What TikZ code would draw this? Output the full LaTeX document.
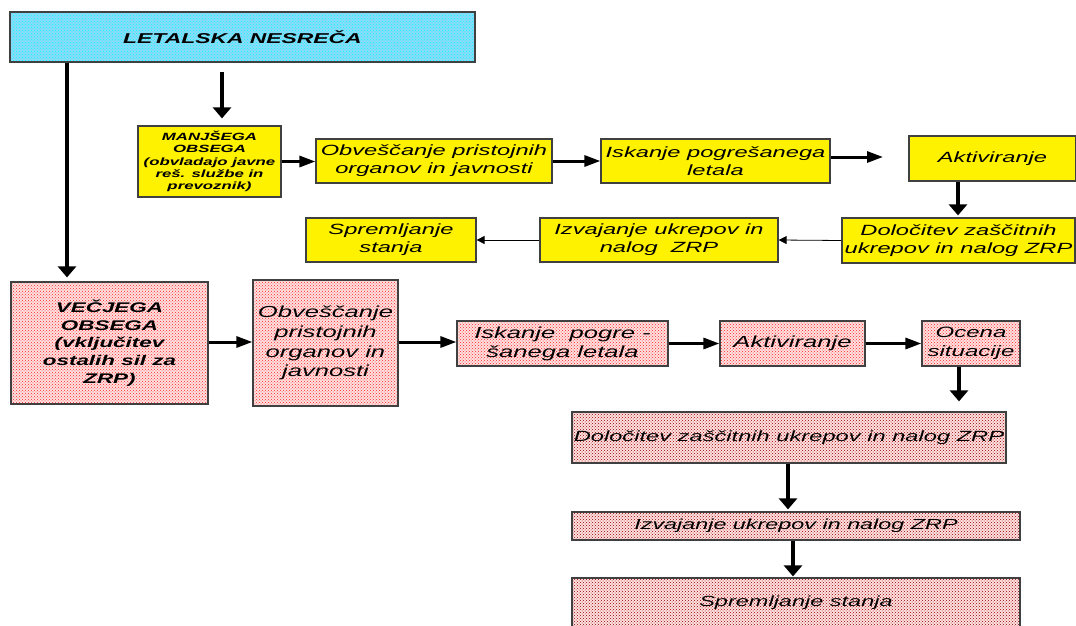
\documentclass[tikz,border=0pt]{standalone}
\usepackage{fontspec}
\setmainfont[FakeStretch=1.6]{Liberation Sans}
\usetikzlibrary{arrows.meta,patterns}
\newcommand{\myfs}[2]{\fontsize{#1}{#2}\selectfont}
\tikzset{
  box/.style={draw=black!75, line width=1.2pt, inner sep=0pt, align=center, anchor=center, font=\itshape},
  ybox/.style={box, fill=yellow},
  pbox/.style={box, preaction={fill=red!12}, pattern=crosshatch dots, pattern color=red!85},
  dbox/.style={box, preaction={fill=red!12}, pattern=crosshatch dots, pattern color=red!60!black},
  cbox/.style={box, preaction={fill=cyan!45}, pattern=crosshatch dots, pattern color=cyan},
  harr/.style={line width=3pt, -{Triangle[length=16pt,width=11pt]}},
  varr/.style={line width=4pt, -{Triangle[length=11pt,width=18pt]}},
  tarr/.style={line width=0.8pt, -{Triangle[length=8pt,width=8pt]}},
}
\begin{document}
\begin{tikzpicture}[x=1pt,y=-1pt]
\useasboundingbox (0,0) rectangle (1076,626);
\clip (0,0) rectangle (1076,626);
% top
\node[cbox, minimum width=465pt, minimum height=50pt, font=\bfseries\itshape\myfs{14.3}{17}] (title) at (242.5,37) {LETALSKA NESREČA};
% row 1
\node[ybox, minimum width=143pt, minimum height=71pt, font=\bfseries\itshape\myfs{10.5}{12.3}] (manj) at (209.5,161.5) {MANJŠEGA\\OBSEGA\\(obvladajo javne\\reš. službe in\\prevoznik)};
\node[ybox, minimum width=236pt, minimum height=44pt, font=\itshape\myfs{14.8}{18}] (obv1) at (434,161) {Obveščanje pristojnih\\organov in javnosti};
\node[ybox, minimum width=229pt, minimum height=44pt, font=\itshape\myfs{14.8}{18}] (isk1) at (715.5,161) {Iskanje pogrešanega\\letala};
\node[ybox, minimum width=167pt, minimum height=45pt, font=\itshape\myfs{14.8}{18}] (akt1) at (992.5,158.5) {Aktiviranje};
% row 2
\node[ybox, minimum width=233pt, minimum height=45pt, font=\itshape\myfs{14.8}{18}] (dol1) at (958.5,240.5) {Določitev zaščitnih\\ukrepov in nalog ZRP};
\node[ybox, minimum width=238pt, minimum height=44pt, font=\itshape\myfs{14.8}{18}] (izv1) at (659,240) {Izvajanje ukrepov in\\nalog~~ZRP};
\node[ybox, minimum width=170pt, minimum height=44pt, font=\itshape\myfs{14.8}{18}] (spr1) at (391,240) {Spremljanje\\stanja};
% pink row
\node[pbox, minimum width=197pt, minimum height=122pt, font=\bfseries\itshape\myfs{14}{17.7}] (vec) at (109.5,343) {VEČJEGA\\OBSEGA\\(vključitev\\ostalih sil za\\ZRP)};
\node[pbox, minimum width=145pt, minimum height=126pt, font=\itshape\myfs{16}{19.7}] (obv2) at (325.5,343) {Obveščanje\\pristojnih\\organov in\\javnosti};
\node[pbox, minimum width=211pt, minimum height=45pt, font=\itshape\myfs{16}{19}] (isk2) at (562.5,343.5) {Iskanje~~pogre -\\šanega letala};
\node[pbox, minimum width=145pt, minimum height=45pt, font=\itshape\myfs{16}{19}] (akt2) at (792.5,343.5) {Aktiviranje};
\node[pbox, minimum width=98pt, minimum height=45pt, font=\itshape\myfs{15}{19}] (oce) at (971,343.5) {Ocena\\situacije};
% lower column
\node[dbox, minimum width=434pt, minimum height=51pt, font=\itshape\myfs{14.8}{18}] (dol2) at (789,437.5) {Določitev zaščitnih ukrepov in nalog ZRP};
\node[dbox, minimum width=448pt, minimum height=28pt, font=\itshape\myfs{14.6}{18}] (izv2) at (796,526) {Izvajanje ukrepov in nalog ZRP};
\node[dbox, minimum width=448pt, minimum height=50pt, font=\itshape\myfs{14.7}{18}] (spr2) at (796,603) {Spremljanje stanja};
% connectors
\coordinate (s1) at (222,72);
\coordinate (c1) at (883,157);
\draw[varr, shorten >=7pt] (s1) -- (s1 |- manj.north);
\draw[varr, shorten >=4pt] (title.south -| 67,0) -- (vec.north -| 67,0);
\draw[harr] (manj.east) -- (obv1.west |- manj.east);
\draw[harr] (obv1.east) -- (isk1.west |- obv1.east);
\draw[harr] (isk1.east |- c1) -- (c1);
\draw[varr, shorten >=2pt] (akt1.south -| 958,0) -- (dol1.north -| 958,0);
\draw[tarr] (dol1.west) -- (izv1.east);
\draw[tarr] (izv1.west) -- (spr1.east);
\draw[harr] (vec.east |- 0,342) -- (obv2.west |- 0,342);
\draw[harr] (obv2.east |- 0,342) -- (isk2.west |- 0,342);
\draw[harr] (isk2.east) -- (akt2.west);
\draw[harr] (akt2.east) -- (oce.west);
\draw[varr, shorten >=10pt] (oce.south -| 959,0) -- (dol2.north -| 959,0);
\draw[varr, shorten >=2pt] (dol2.south -| 788,0) -- (izv2.north -| 788,0);
\draw[varr, shorten >=1pt] (izv2.south -| 793,0) -- (spr2.north -| 793,0);
\end{tikzpicture}
\end{document}
